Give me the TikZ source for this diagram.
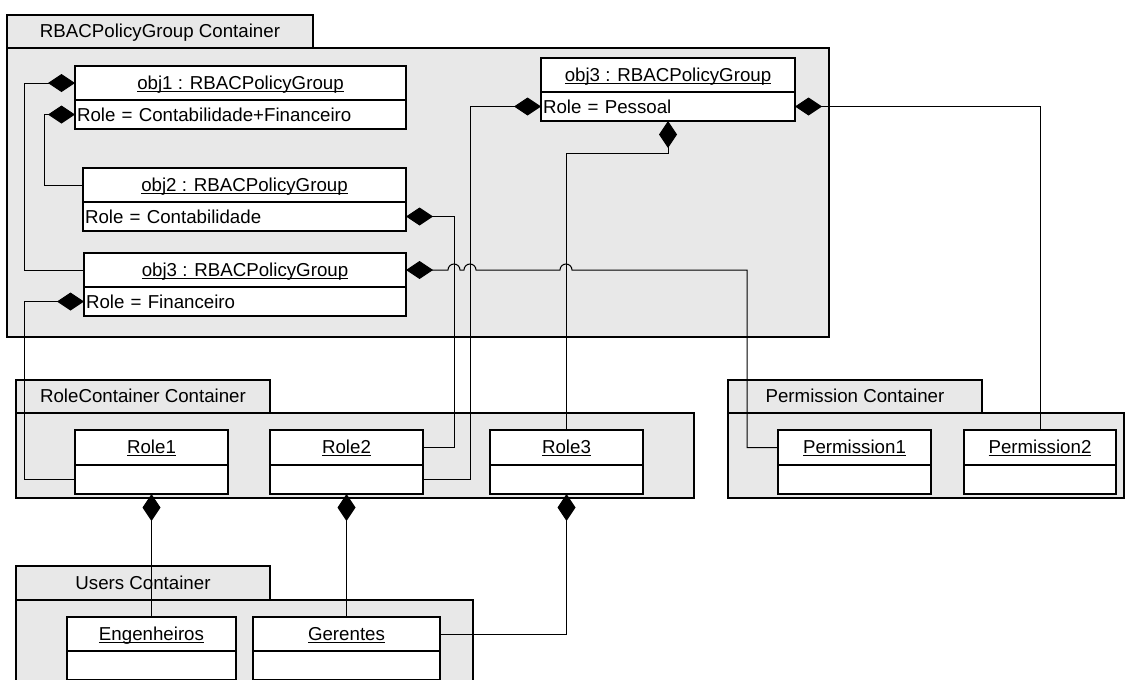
\documentclass[tikz,border=0pt]{standalone}
\usepackage{fontspec}
\setmainfont{Liberation Sans}
\usepackage{xcolor}
\usepackage{tikz}
\usetikzlibrary{positioning,calc,arrows.meta}

\definecolor{boxgray}{RGB}{232,232,232}
\newcommand{\ulname}[1]{\setbox0=\hbox{#1}\rlap{\rule[-2.5pt]{\wd0}{1pt}}\box0}
\tikzset{
    tabbox/.style={draw, fill=boxgray, line width=1.3pt, anchor=north west, inner sep=0pt, outer sep=0pt, text height=14pt, text depth=2pt},
    bodybox/.style={draw, fill=boxgray, line width=1.3pt, anchor=north west, inner sep=0pt, outer sep=0pt},
    objhead/.style={draw, fill=white, line width=1.3pt, anchor=north west, inner sep=0pt, outer sep=0pt, minimum height=34pt, text height=14pt, text depth=2pt},
    objattr/.style={draw, fill=white, line width=1.3pt, anchor=north west, inner xsep=2pt, inner ysep=0pt, outer sep=0pt, minimum height=29pt, align=left},
    compo/.style={{Diamond[length=27pt,width=18pt]}-, line width=1pt}
}

\begin{document}
\begin{tikzpicture}[x=1pt, y=-1pt, font=\fontsize{18.7pt}{22pt}\selectfont]
    \useasboundingbox (0,0) rectangle (1125,680);
    \clip (0,0) rectangle (1125,680);

    % RBACPolicyGroup container
    \node[tabbox, minimum width=306pt, minimum height=33pt] (pgtab) at (7,15) {RBACPolicyGroup Container};
    \node[bodybox, minimum width=822pt, minimum height=289pt] (pgbody) at (pgtab.south west) {};

    \node[objhead, minimum width=331pt] (o1) at (75,66) {\ulname{obj1 : RBACPolicyGroup}};
    \node[objattr, text width=327pt] (o1a) at (o1.south west) {Role = Contabilidade+Financeiro};
    \node[objhead, minimum width=323pt] (o2) at (83,168) {\ulname{obj2 : RBACPolicyGroup}};
    \node[objattr, text width=319pt] (o2a) at (o2.south west) {Role = Contabilidade};
    \node[objhead, minimum width=322pt] (o3l) at (84,253) {\ulname{obj3 : RBACPolicyGroup}};
    \node[objattr, text width=318pt] (o3la) at (o3l.south west) {Role = Financeiro};
    \node[objhead, minimum width=254pt] (o3r) at (541,58) {\ulname{obj3 : RBACPolicyGroup}};
    \node[objattr, text width=250pt] (o3ra) at (o3r.south west) {Role = Pessoal};

    % RoleContainer container
    \node[tabbox, minimum width=254pt, minimum height=33pt] (rtab) at (16,380) {RoleContainer Container};
    \node[bodybox, minimum width=678pt, minimum height=85pt] (rbody) at (rtab.south west) {};

    \node[objhead, minimum width=153pt, minimum height=35pt] (r1) at (75,430) {\ulname{Role1}};
    \node[objattr, text width=149pt] (r1a) at (r1.south west) {};
    \node[objhead, minimum width=153pt, minimum height=35pt] (r2) at (270,430) {\ulname{Role2}};
    \node[objattr, text width=149pt] (r2a) at (r2.south west) {};
    \node[objhead, minimum width=153pt, minimum height=35pt] (r3) at (490,430) {\ulname{Role3}};
    \node[objattr, text width=149pt] (r3a) at (r3.south west) {};

    % Permission container
    \node[tabbox, minimum width=254pt, minimum height=33pt] (ptab) at (728,380) {Permission Container};
    \node[bodybox, minimum width=396pt, minimum height=85pt] (pbody) at (ptab.south west) {};

    \node[objhead, minimum width=153pt, minimum height=35pt] (p1) at (778,430) {\ulname{Permission1}};
    \node[objattr, text width=149pt] (p1a) at (p1.south west) {};
    \node[objhead, minimum width=152pt, minimum height=35pt] (p2) at (964,430) {\ulname{Permission2}};
    \node[objattr, text width=148pt] (p2a) at (p2.south west) {};

    % Users container
    \node[tabbox, minimum width=254pt, minimum height=34pt] (utab) at (16,566) {Users Container};
    \node[bodybox, minimum width=457pt, minimum height=100pt] (ubody) at (utab.south west) {};

    \node[objhead, minimum width=169pt] (eng) at (67,617) {\ulname{Engenheiros}};
    \node[objattr, text width=165pt] (enga) at (eng.south west) {};
    \node[objhead, minimum width=187pt] (ger) at (253,617) {\ulname{Gerentes}};
    \node[objattr, text width=183pt] (gera) at (ger.south west) {};

    % compositions inside the policy groups
    \draw[compo] (o1.west) -- ++(-51,0) |- (o3l.west);
    \draw[compo] (o1a.west) -- ++(-31,0) |- (o2.west);

    % policy groups to roles
    \draw[compo] (o3la.west) -- ++(-60,0) |- (r1a.west);
    \draw[compo] (o2a.east) -- ++(48,0) |- (r2.east);
    \draw[compo] (o3ra.west) -- ++(-71,0) |- (r2a.east);
    \draw[compo] (o3ra.south) -- ++(0,32) -| (r3.north);

    % policy groups to permissions
    \draw[compo] (o3l.east) -- ++(42,0) arc[start angle=180, end angle=0, radius=6pt]
        -- ++(4,0) arc[start angle=180, end angle=0, radius=6pt]
        -- ++(84,0) arc[start angle=180, end angle=0, radius=6pt]
        -- ++(175,0) |- (p1.west);
    \draw[compo] (o3ra.east) -| (p2.north);

    % roles to users
    \draw[compo] (r1a.south) -- (eng.north);
    \draw[compo] (r2a.south) -- (r2a.south |- ger.north);
    \draw[compo] (r3a.south) |- (ger.east);
\end{tikzpicture}
\end{document}
